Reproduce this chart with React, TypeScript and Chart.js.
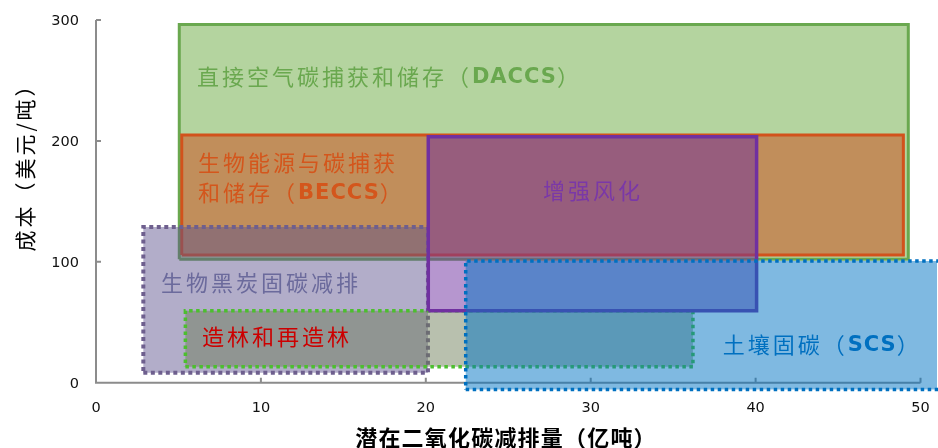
import React, { useEffect, useRef } from "react";
import { Chart, registerables } from "chart.js";
Chart.register(...registerables);

// ---- data (x: 亿吨, y: 美元/吨) ----
const xTicks = [0, 10, 20, 30, 40, 50];
const yTicks = [0, 100, 200, 300];

const names = ["DACCS", "BECCS", "Biochar", "Afforestation", "EW", "SCS"];
const xStart = [5.05, 5.2, 2.87, 5.42, 20.15, 22.42];
const xEnd = [49.26, 48.96, 20.13, 36.2, 40.06, 52];
const yLow = [102.1, 105.6, 8.3, 13.2, 59.6, -5.5];
const yHigh = [296.3, 204.9, 128.8, 59.6, 203.5, 100.7];

// ---- styles ----
const fills = [
  "rgba(112,173,71,0.52)",
  "rgba(201,95,47,0.6)",
  "rgba(92,80,140,0.47)",
  "rgba(107,123,85,0.48)",
  "rgba(110,45,160,0.5)",
  "rgba(0,115,195,0.5)",
];
const borders = ["#6aa84f", "#d2521c", "#6e5f8e", "#4cbf2e", "#7030a0", "#0070c0"];
const borderWidths = [3, 3, 4, 3.5, 3.5, 3.5];
const dashes: number[][] = [[], [], [4, 3.5], [3.5, 3.5], [], [3.5, 3.5]];

type Run = [string, boolean];
const labels: { runs: Run[]; x: number; y: number; color: string }[] = [
  { runs: [["直接空气碳捕获和储存（", false], ["DACCS", true], ["）", false]], x: 6.12, y: 252.9, color: "#6aa84f" },
  { runs: [["生物能源与碳捕获", false]], x: 6.19, y: 181.7, color: "#d4561c" },
  { runs: [["和储存（", false], ["BECCS", true], ["）", false]], x: 6.19, y: 156.9, color: "#d4561c" },
  { runs: [["增强风化", false]], x: 27.1, y: 158.6, color: "#7a38a8" },
  { runs: [["生物黑炭固碳减排", false]], x: 3.94, y: 82.5, color: "#6b6a9c" },
  { runs: [["造林和再造林", false]], x: 6.43, y: 37.8, color: "#cc0000" },
  { runs: [["土壤固碳（", false], ["SCS", true], ["）", false]], x: 38.0, y: 31.2, color: "#0070c0" },
];

const xTitle = "潜在二氧化碳减排量（亿吨）";
const yTitle = "成本（美元/吨）";

const CJK = '"Noto Sans CJK SC"';

function drawRuns(ctx: CanvasRenderingContext2D, runs: Run[], x: number, y: number, color: string) {
  let cx = x;
  ctx.fillStyle = color;
  ctx.textBaseline = "middle";
  ctx.textAlign = "left";
  for (const [t, bold] of runs) {
    ctx.font = bold ? `bold 21px "DejaVu Sans"` : `22px ${CJK}`;
    (ctx as any).letterSpacing = bold ? "1px" : "3px";
    ctx.fillText(t, cx, bold ? y + 1 : y);
    cx += ctx.measureText(t).width;
  }
  (ctx as any).letterSpacing = "0px";
}

const axesPlugin = {
  id: "axesLines",
  beforeDatasetsDraw(chart: any) {
    const { ctx, scales } = chart;
    const x = scales.x, y = scales.y;
    const x0 = x.getPixelForValue(0);
    const x1 = x.getPixelForValue(xTicks[xTicks.length - 1]);
    const y0 = y.getPixelForValue(0);
    const y1 = y.getPixelForValue(yTicks[yTicks.length - 1]);
    ctx.save();
    ctx.strokeStyle = "#8c8c8c";
    ctx.lineWidth = 2;
    ctx.beginPath();
    ctx.moveTo(x0, y1);
    ctx.lineTo(x0, y0);
    ctx.lineTo(x1, y0);
    for (const v of yTicks) {
      if (v === 0) continue;
      const py = y.getPixelForValue(v);
      ctx.moveTo(x0, py);
      ctx.lineTo(x0 + 5, py);
    }
    for (const v of xTicks) {
      if (v === 0) continue;
      const px = x.getPixelForValue(v);
      ctx.moveTo(px, y0);
      ctx.lineTo(px, y0 - 5);
    }
    ctx.stroke();
    // tick labels
    ctx.fillStyle = "#111";
    ctx.font = '14.5px "DejaVu Sans"';
    ctx.textBaseline = "middle";
    ctx.textAlign = "right";
    for (const v of yTicks) {
      ctx.fillText(String(v), x0 - 17, y.getPixelForValue(v) + 1);
    }
    ctx.textAlign = "center";
    for (const v of xTicks) {
      ctx.fillText(String(v), x.getPixelForValue(v), y0 + 25);
    }
    ctx.restore();
  },
};

const textPlugin = {
  id: "boxLabels",
  afterDatasetsDraw(chart: any) {
    const { ctx, scales } = chart;
    ctx.save();
    for (const l of labels) {
      drawRuns(ctx, l.runs, scales.x.getPixelForValue(l.x), scales.y.getPixelForValue(l.y), l.color);
    }
    // x title
    ctx.fillStyle = "#000";
    ctx.font = `bold 22px ${CJK}`;
    (ctx as any).letterSpacing = "1.2px";
    ctx.textAlign = "center";
    ctx.textBaseline = "middle";
    ctx.fillText(xTitle, 506, 438);
    // y title
    ctx.save();
    ctx.translate(25, 162);
    ctx.rotate(-Math.PI / 2);
    ctx.font = `21px ${CJK}`;
    (ctx as any).letterSpacing = "3px";
    ctx.fillText(yTitle, 0, 0);
    ctx.restore();
    (ctx as any).letterSpacing = "0px";
    ctx.restore();
  },
};

export default function App() {
  const ref = useRef<HTMLCanvasElement | null>(null);
  useEffect(() => {
    if (!ref.current) return;
    const datasets = names.map((n, i) => ({
      label: n,
      data: [
        { x: xStart[i], y: yLow[i] },
        { x: xEnd[i], y: yLow[i] },
        { x: xEnd[i], y: yHigh[i] },
        { x: xStart[i], y: yHigh[i] },
        { x: xStart[i], y: yLow[i] },
      ],
      showLine: true,
      fill: "shape",
      backgroundColor: fills[i],
      borderColor: borders[i],
      borderWidth: borderWidths[i],
      borderDash: dashes[i],
      borderCapStyle: "butt",
      borderJoinStyle: "miter",
      pointRadius: 0,
      pointHoverRadius: 0,
      tension: 0,
      clip: false,
      order: names.length - i,
    }));
    const chart = new Chart(ref.current, {
      type: "scatter",
      data: { datasets } as any,
      options: {
        animation: false,
        responsive: false,
        devicePixelRatio: 1,
        layout: { padding: { left: 0, right: 1, top: 20, bottom: 0 } },
        plugins: { legend: { display: false }, tooltip: { enabled: false } },
        events: [],
        scales: {
          x: {
            type: "linear",
            min: 0,
            max: 51,
            afterFit: (s: any) => { s.height = 58; },
            afterBuildTicks: (s: any) => { s.ticks = xTicks.map((v) => ({ value: v })); },
            grid: { display: false },
            border: { display: false },
            ticks: { display: false },
          },
          y: {
            type: "linear",
            min: -6,
            max: 300,
            afterFit: (s: any) => { s.width = 96; },
            afterBuildTicks: (s: any) => { s.ticks = yTicks.map((v) => ({ value: v })); },
            grid: { display: false },
            border: { display: false },
            ticks: { display: false },
          },
        },
      } as any,
      plugins: [axesPlugin, textPlugin],
    });
    return () => chart.destroy();
  }, []);
  return (
    <div style={{ position: "fixed", left: 0, top: 0, width: 938, height: 448, background: "#fff" }}>
      <canvas ref={ref} width={938} height={448} style={{ display: "block", width: 938, height: 448 }} />
    </div>
  );
}
